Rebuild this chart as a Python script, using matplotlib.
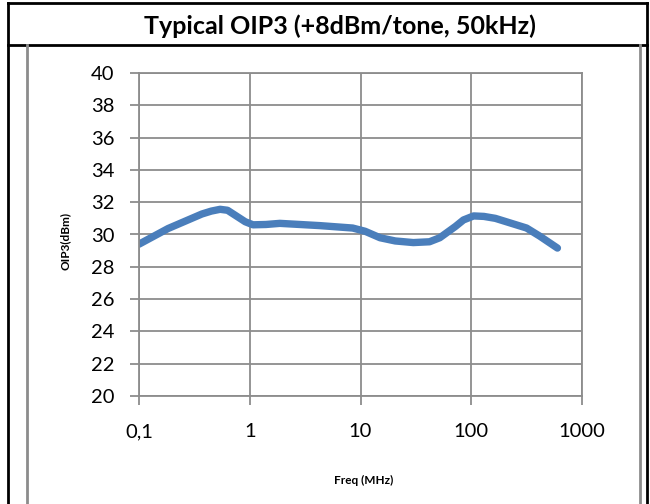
import matplotlib
matplotlib.use('Agg')
import matplotlib.pyplot as plt
from matplotlib.lines import Line2D

# values
freq = [0.1, 0.183, 0.37, 0.45, 0.54, 0.63, 0.736, 0.91, 1.07, 1.4, 1.87, 4.3, 8.5,
        11, 15, 20.6, 30, 42, 52, 72, 85, 105, 130, 165, 316, 415, 600]
oip3 = [29.4, 30.37, 31.27, 31.45, 31.56, 31.5, 31.2, 30.79, 30.6, 30.62, 30.69, 30.55, 30.4,
        30.2, 29.8, 29.6, 29.5, 29.55, 29.8, 30.5, 30.9, 31.15, 31.12, 31.0, 30.4, 29.9, 29.16]

xticks = [0.1, 1, 10, 100, 1000]
xtick_labels = ['0,1', '1', '10', '100', '1000']
yticks = list(range(20, 41, 2))

plt.rcParams['font.family'] = ['Lato', 'DejaVu Sans']

W, H = 650, 504
fig = plt.figure(figsize=(W / 100, H / 100), dpi=100)


def px(x, y):
    return x / W, 1 - y / H


ax = fig.add_axes([139 / W, 1 - 396 / H, (582 - 139) / W, (396 - 73) / H])

grey = '#8c8c8c'
ax.plot(freq, oip3, color='#4a7ebb', linewidth=5.3, solid_joinstyle='round',
        solid_capstyle='round')

ax.set_xscale('log')
ax.set_xlim(0.1, 1000)
ax.set_ylim(20, 40)
ax.set_xticks(xticks)
ax.set_xticklabels(xtick_labels)
ax.xaxis.set_minor_locator(matplotlib.ticker.NullLocator())
ax.set_yticks(yticks)
ax.grid(True, color=grey, linewidth=1.3)
ax.set_axisbelow(True)
for s in ax.spines.values():
    s.set_color(grey)
    s.set_linewidth(1.3)
ax.tick_params(axis='both', which='major', length=6.5, width=1.3, color=grey,
               labelsize=14.5)
ax.tick_params(axis='y', pad=11)
ax.tick_params(axis='x', pad=13)

ax.set_xlabel('Freq (MHz)', fontsize=8.5, fontweight='bold')
ax.set_ylabel('OIP3(dBm)', fontsize=8.5, fontweight='bold')
ax.xaxis.set_label_coords(0.507, -0.245)
ax.yaxis.set_label_coords(-0.155, 0.48)

# frame: outer black box, title band, grey chart area
x0, y0 = px(8, 3)
x1, _ = px(647, 0)
_, yb = px(0, 510)
_, yt = px(0, 45)
fig.add_artist(Line2D([x0, x0], [yb, y0], color='black', lw=2, transform=fig.transFigure))
fig.add_artist(Line2D([x1, x1], [yb, y0], color='black', lw=2, transform=fig.transFigure))
fig.add_artist(Line2D([x0, x1], [y0, y0], color='black', lw=2, transform=fig.transFigure))
fig.add_artist(Line2D([x0, x1], [yt, yt], color='black', lw=2, transform=fig.transFigure))
gx0, _ = px(27, 0)
gx1, _ = px(640, 0)
fig.add_artist(Line2D([gx0, gx0], [yb, yt], color=grey, lw=2, transform=fig.transFigure))
fig.add_artist(Line2D([gx1, gx1], [yb, yt], color=grey, lw=2, transform=fig.transFigure))

tx, ty = px(340, 26)
fig.text(tx, ty, 'Typical OIP3 (+8dBm/tone, 50kHz)', ha='center', va='center',
         fontsize=18, fontweight='bold')

fig.savefig('out.png', dpi=100)
